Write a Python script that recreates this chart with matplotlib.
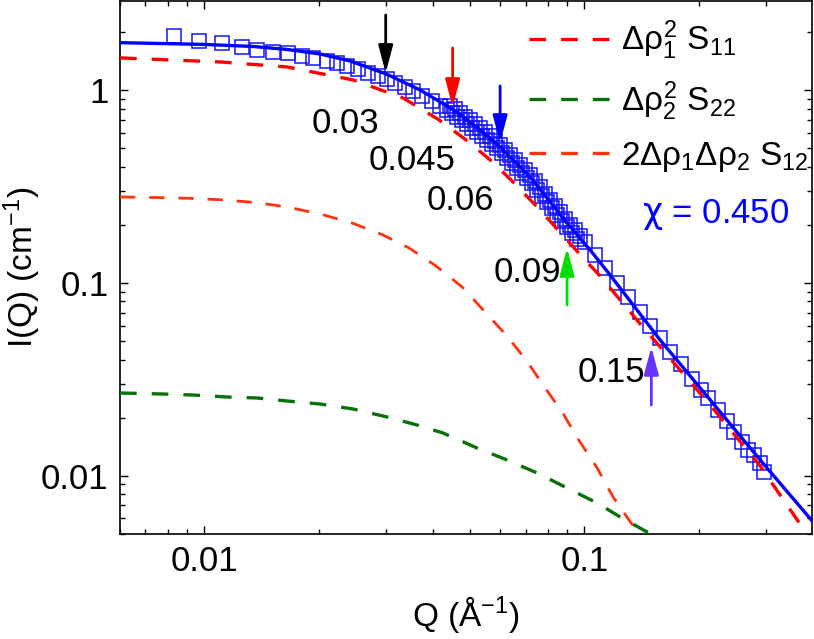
import matplotlib
matplotlib.use('Agg')
import matplotlib.pyplot as plt
from matplotlib.lines import Line2D
from matplotlib.ticker import FixedLocator, NullFormatter, LogLocator

plt.rcParams['font.family'] = ['Liberation Sans', 'DejaVu Sans']
plt.rcParams['mathtext.fontset'] = 'custom'
plt.rcParams['mathtext.rm'] = 'Liberation Sans'
plt.rcParams['mathtext.it'] = 'Liberation Sans'
plt.rcParams['mathtext.bf'] = 'Liberation Sans:bold'
plt.rcParams['mathtext.sf'] = 'DejaVu Sans'

# ---------------- data ----------------
q_fit = [0.0060, 0.0100, 0.01343, 0.01651, 0.02016, 0.02417, 0.03007, 0.03694, 0.04485,
         0.05315, 0.0600, 0.07195, 0.08951, 0.1035, 0.1168, 0.1582, 0.2142, 0.2901, 0.3998]
i_fit = [1.759, 1.722, 1.681, 1.622, 1.537, 1.414, 1.211, 1.000, 0.797,
         0.620, 0.506, 0.3538, 0.2066, 0.1480, 0.1098, 0.0505, 0.0247, 0.01205, 0.00574]

q_s11 = [0.0060, 0.0110, 0.01651, 0.02462, 0.03333, 0.04147, 0.04884, 0.05613, 0.06452, 0.07420,
         0.08525, 0.0992, 0.1100, 0.1242, 0.1410, 0.1582, 0.2142, 0.2901, 0.3833, 0.400]
i_s11 = [1.466, 1.397, 1.316, 1.127, 0.909, 0.699, 0.550, 0.4386, 0.3373, 0.2533,
         0.1879, 0.1345, 0.1085, 0.0814, 0.0604, 0.0465, 0.02324, 0.01121, 0.00504, 0.00436]

q_s12 = [0.0060, 0.00765, 0.00923, 0.01127, 0.01368, 0.01651, 0.02016, 0.02447, 0.02953, 0.03457,
         0.04071, 0.04767, 0.05447, 0.06222, 0.07024, 0.07786, 0.08737, 0.09625, 0.1080, 0.1190,
         0.1327, 0.1445]
i_s12 = [0.2786, 0.2766, 0.2741, 0.2689, 0.2606, 0.2472, 0.2274, 0.2042, 0.1770, 0.1515,
         0.1222, 0.0951, 0.0714, 0.0536, 0.0398, 0.0295, 0.02138, 0.01548, 0.01095, 0.00774,
         0.00568, 0.00458]

q_s22 = [0.0060, 0.00779, 0.00934, 0.01147, 0.01376, 0.01651, 0.02016, 0.02462, 0.03026, 0.03628,
         0.04248, 0.05219, 0.06260, 0.07507, 0.09006, 0.1080, 0.1242, 0.1462, 0.1583]
i_s22 = [0.02682, 0.02650, 0.02618, 0.02557, 0.02527, 0.02437, 0.02351, 0.02215, 0.02014, 0.01830,
         0.01663, 0.01390, 0.01205, 0.01032, 0.00862, 0.00721, 0.00610, 0.00510, 0.00475]

# measured points (squares)
q_low = [0.00832, 0.00969, 0.01113, 0.01257, 0.01376, 0.01516, 0.01661, 0.01807, 0.01932, 0.02103,
         0.02235, 0.02374, 0.02538, 0.02697, 0.02865, 0.03026, 0.03176, 0.03375, 0.03542, 0.03741,
         0.03975, 0.04173]
i_low = [1.906, 1.796, 1.753, 1.671, 1.612, 1.574, 1.556, 1.501, 1.466, 1.414,
         1.380, 1.332, 1.285, 1.225, 1.182, 1.140, 1.087, 1.036, 0.988, 0.931,
         0.877, 0.826]

q_mid_a = [0.04352, 0.04485, 0.04624, 0.04766, 0.04912, 0.05064, 0.05219, 0.05380, 0.05545, 0.05716,
           0.05892, 0.06073, 0.06260, 0.06452, 0.06651, 0.06856, 0.07067, 0.07284, 0.07508, 0.07740,
           0.07977, 0.08222, 0.08476, 0.08737, 0.09006, 0.09282, 0.09568]
i_mid_a = [0.7873, 0.7598, 0.7271, 0.6949, 0.6648, 0.6352, 0.6077, 0.5794, 0.5503, 0.5234,
           0.4980, 0.4713, 0.4439, 0.4181, 0.3939, 0.3711, 0.3496, 0.3273, 0.3040, 0.2819,
           0.2618, 0.2428, 0.2255, 0.2091, 0.1940, 0.1813, 0.1691]

q_mid_b = [0.04431, 0.04569, 0.04709, 0.04855, 0.05003, 0.05157, 0.05315, 0.05479, 0.05648, 0.05821,
           0.06000, 0.06184, 0.06374, 0.06570, 0.06773, 0.06982, 0.07196, 0.07418, 0.07646, 0.07881,
           0.08123, 0.08373, 0.08631, 0.08896, 0.09171, 0.09452, 0.09743, 0.1004]
i_mid_b = [0.8280, 0.7943, 0.7598, 0.7262, 0.6949, 0.6648, 0.6352, 0.6041, 0.5738, 0.5458,
           0.5185, 0.4884, 0.4601, 0.4334, 0.4083, 0.3846, 0.3623, 0.3365, 0.3120, 0.2899,
           0.2689, 0.2496, 0.2315, 0.2150, 0.2001, 0.1867, 0.1742, 0.1624]

q_high = [0.1067, 0.1134, 0.1219, 0.1303, 0.1401, 0.1489, 0.1582, 0.1681, 0.1797, 0.1921,
          0.2028, 0.2116, 0.2248, 0.2374, 0.2477, 0.2600, 0.2697, 0.2797, 0.2900, 0.2971]
i_high = [0.1394, 0.1193, 0.0998, 0.0844, 0.0706, 0.0597, 0.0517, 0.0438, 0.0379, 0.0317,
          0.0278, 0.0253, 0.02188, 0.01919, 0.01683, 0.01494, 0.01358, 0.01279, 0.01162, 0.01044]

# arrows: Q position, tail, tip, label, label position
arrow_q = [0.03, 0.045, 0.06, 0.09, 0.15]
arrow_tail = [2.449, 1.651, 1.049, 0.0767, 0.02324]
arrow_tip = [1.225, 0.816, 0.531, 0.1515, 0.0465]
arrow_colors = ['#000000', '#ff0000', '#0000ff', '#00dd00', '#6633ff']
label_text = ['0.03', '0.045', '0.06', '0.09', '0.15']
label_q = [0.02352, 0.03510, 0.04709, 0.07067, 0.1179]
label_i = [0.598, 0.3846, 0.2385, 0.1009, 0.03058]

legend_labels = [r'$\Delta\rho_1^2\ \mathrm{S}_{11}$',
                 r'$\Delta\rho_2^2\ \mathrm{S}_{22}$',
                 r'$2\Delta\rho_1\Delta\rho_2\ \mathrm{S}_{12}$']

# ---------------- plotting ----------------
FS = 24
FS_T = 25
fig = plt.figure(figsize=(8.14, 6.39), dpi=100)
ax = fig.add_axes([119.5 / 814, 105 / 639, 692.5 / 814, 533.5 / 639])

q_data = q_low + q_mid_a + q_mid_b + q_high
i_data = i_low + i_mid_a + i_mid_b + i_high
ax.plot(q_data, i_data, ls='none', marker='s', ms=9.5, mfc='none', mec='#1414ff', mew=1.1, zorder=2)

c11, c22, c12 = '#ff0000', '#0a700a', '#ff3311'
ax.plot(q_s12, i_s12, color=c12, lw=2.0, dashes=(5.5, 5), zorder=3)
ax.plot(q_s22, i_s22, color=c22, lw=2.4, dashes=(5, 4.5), zorder=3)
ax.plot(q_s11, i_s11, color=c11, lw=2.4, dashes=(5, 4.5), zorder=3)
ax.plot(q_fit, i_fit, color='#0000ff', lw=2.4, zorder=4)

for q, t0, t1, c in zip(arrow_q, arrow_tail, arrow_tip, arrow_colors):
    ax.annotate('', xy=(q, t1), xytext=(q, t0),
                arrowprops=dict(arrowstyle='-|>,head_length=0.83,head_width=0.22',
                                color=c, lw=2.0, mutation_scale=20,
                                shrinkA=0, shrinkB=0), zorder=5)
for s, q, i in zip(label_text, label_q, label_i):
    ax.text(q, i, s, fontsize=FS_T, ha='center', va='baseline', color='black', zorder=6)

ax.text(0.2208, 0.2042, r'$\mathsf{\chi}$ = 0.450', fontsize=FS_T, ha='center', va='baseline',
        color='#0000ff')

handles = [Line2D([], [], color=c11, lw=2.4, dashes=(5, 4.5)),
           Line2D([], [], color=c22, lw=2.4, dashes=(5, 4.5)),
           Line2D([], [], color=c12, lw=2.4, dashes=(5, 4.5))]
ax.legend(handles, legend_labels, loc='upper left', bbox_to_anchor=(0.591, 0.966),
          frameon=False, fontsize=FS, handlelength=2.43, handletextpad=0.33,
          labelspacing=0.51, borderpad=0, borderaxespad=0)

ax.set_xscale('log')
ax.set_yscale('log')
ax.set_xlim(0.00598, 0.397)
ax.set_ylim(0.00498, 2.91)

ax.xaxis.set_major_locator(FixedLocator([0.01, 0.1]))
ax.set_xticklabels(['0.01', '0.1'])
ax.yaxis.set_major_locator(FixedLocator([0.01, 0.1, 1]))
ax.set_yticklabels(['0.01', '0.1', '1'])
ax.xaxis.set_minor_locator(LogLocator(base=10, subs=range(2, 10), numticks=20))
ax.yaxis.set_minor_locator(LogLocator(base=10, subs=range(2, 10), numticks=20))
ax.xaxis.set_minor_formatter(NullFormatter())
ax.yaxis.set_minor_formatter(NullFormatter())

ax.tick_params(which='both', direction='in', top=True, right=True, width=1.0, labelsize=FS_T)
ax.tick_params(which='major', length=6)
ax.tick_params(which='minor', length=3.3)
ax.tick_params(axis='x', which='major', pad=8)
ax.tick_params(axis='y', which='major', pad=8)
for sp in ax.spines.values():
    sp.set_linewidth(1.2)

ax.set_xlabel('Q (Å$^{-1}$)', fontsize=FS)
ax.set_ylabel('I(Q) (cm$^{-1}$)', fontsize=FS)
ax.xaxis.set_label_coords(0.5, -0.113)
ax.yaxis.set_label_coords(-0.11, 0.5)

fig.savefig('out.png', dpi=100)
